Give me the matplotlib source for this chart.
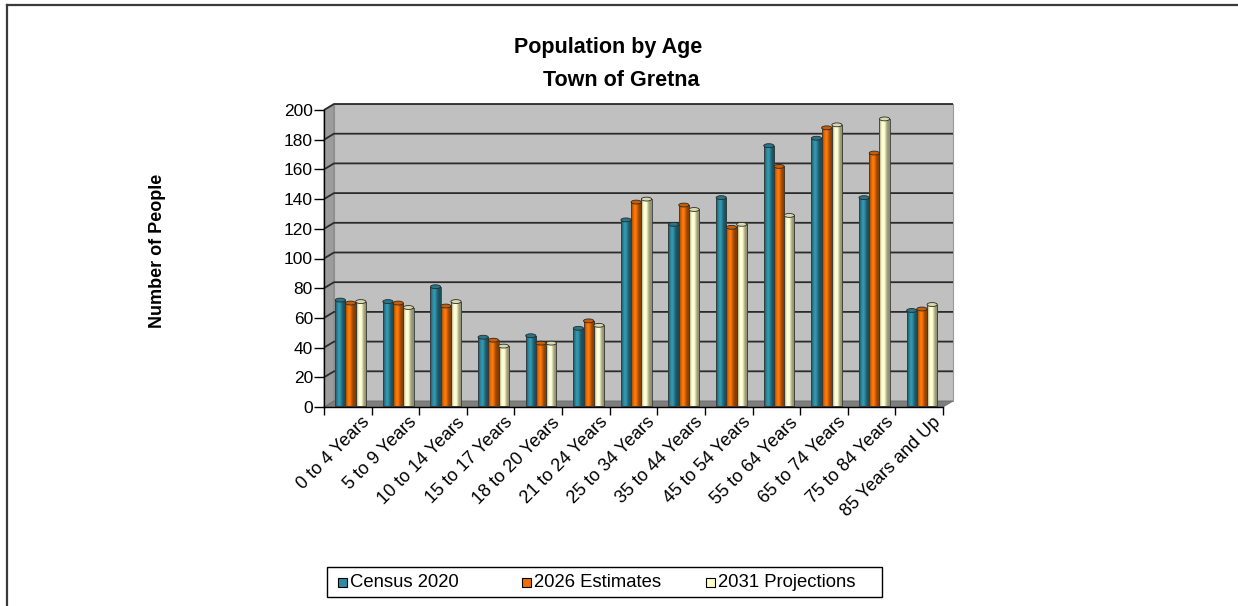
import numpy as np
import matplotlib
matplotlib.use("Agg")
import matplotlib.pyplot as plt
from matplotlib.patches import Polygon, Ellipse, Rectangle
from matplotlib.colors import to_rgb
from matplotlib.lines import Line2D
from matplotlib.transforms import offset_copy

plt.rcParams['font.family'] = ['Liberation Sans', 'DejaVu Sans']

categories = ["0 to 4 Years", "5 to 9 Years", "10 to 14 Years", "15 to 17 Years",
              "18 to 20 Years", "21 to 24 Years", "25 to 34 Years", "35 to 44 Years",
              "45 to 54 Years", "55 to 64 Years", "65 to 74 Years", "75 to 84 Years",
              "85 Years and Up"]
census_2020 = [71, 70, 80, 46, 47, 52, 125, 122, 140, 175, 180, 140, 64]
estimates_2026 = [69, 69, 67, 44, 42, 57, 137, 135, 120, 161, 187, 170, 65]
projections_2031 = [70, 66, 70, 40, 42, 54, 139, 132, 122, 128, 189, 193, 68]
series_names = ["Census 2020", "2026 Estimates", "2031 Projections"]
series_values = [census_2020, estimates_2026, projections_2031]
series_colors = ["#2E8BA1", "#EE6F06", "#FFFFCC"]
y_ticks = list(range(0, 201, 20))

W, H = 1238, 606
fig = plt.figure(figsize=(W / 100, H / 100), dpi=100)

# outer chart frame (top and left edges)
fig.add_artist(Line2D([7 / W, 7 / W], [0, 1 - 5 / H], transform=fig.transFigure,
                      color="#3a3a3a", lw=1.6))
fig.add_artist(Line2D([7 / W, 1], [1 - 5 / H, 1 - 5 / H], transform=fig.transFigure,
                      color="#3a3a3a", lw=1.6))

# front plane of the 3-D box
x0p, x1p, yb, yt = 324, 943, 407, 110
ax = fig.add_axes([x0p / W, 1 - yb / H, (x1p - x0p) / W, (yb - yt) / H])
n = len(categories)
ax.set_xlim(0, n)
ax.set_ylim(0, 200)
ax.patch.set_visible(False)
for s in ["top", "right", "bottom"]:
    ax.spines[s].set_visible(False)
ax.spines["left"].set_color("black")
ax.spines["left"].set_linewidth(1.0)

# depth of the box in data units
dx = 10 / (x1p - x0p) * n
dy = 6 / (yb - yt) * 200

# walls and floor
ax.add_patch(Polygon([(dx, dy), (n + dx, dy), (n + dx, 200 + dy), (dx, 200 + dy)],
                     closed=True, facecolor="#C0C0C0", edgecolor="#9a9a9a", lw=0.8,
                     clip_on=False, zorder=0))
ax.add_patch(Polygon([(0, 0), (dx, dy), (dx, 200 + dy), (0, 200)], closed=True,
                     facecolor="#9C9C9C", edgecolor="#808080", lw=0.6,
                     clip_on=False, zorder=0.5))
ax.add_patch(Polygon([(0, 0), (n, 0), (n + dx, dy), (dx, dy)], closed=True,
                     facecolor="#7E7E7E", edgecolor="#6a6a6a", lw=0.6,
                     clip_on=False, zorder=0.5))
for v in y_ticks[1:]:
    ax.plot([0, dx, n + dx], [v, v + dy, v + dy], color="#2b2b2b", lw=1.3,
            solid_capstyle="butt", clip_on=False, zorder=1)
ax.plot([0, n], [0, 0], color="black", lw=1.0, clip_on=False, zorder=6)


def shade(base):
    r, g, b = to_rgb(base)
    t = np.linspace(0, 1, 40)
    # cylinder lighting: dark rims, highlight left of centre
    k = 0.55 + 0.55 * np.exp(-((t - 0.38) / 0.28) ** 2)
    k = np.clip(k, 0, 1.12)
    rgb = np.stack([np.clip(r * k, 0, 1), np.clip(g * k, 0, 1), np.clip(b * k, 0, 1)], -1)
    return rgb[None, :, :]


bw = 0.215
start = 0.235
lift = 1.0
idx = np.arange(n)
for k, (vals, col) in enumerate(zip(series_values, series_colors)):
    xs = idx + start + k * bw + bw / 2
    bars = ax.bar(xs, vals, width=bw, bottom=lift, facecolor="none",
                  edgecolor="#3a3a3a", lw=0.6, clip_on=False, zorder=4)
    img = shade(col)
    for rect in bars:
        bx, by = rect.get_x(), rect.get_y()
        bwid, bh = rect.get_width(), rect.get_height()
        ax.imshow(img, extent=(bx, bx + bwid, by, by + bh), aspect="auto",
                  interpolation="bilinear", zorder=3, clip_on=False)
        r, g, b = to_rgb(col)
        top = (r * 0.85, g * 0.85, b * 0.85)
        ax.add_patch(Ellipse((bx + bwid / 2, by + bh), bwid, 2.6, facecolor=top,
                             edgecolor="#2a2a2a", lw=0.6, clip_on=False, zorder=5))
ax.set_xlim(0, n)
ax.set_ylim(0, 200)

# axes ticks
ax.set_yticks(y_ticks)
ax.tick_params(axis="y", direction="out", length=7, width=1.0, labelsize=12.5, pad=1)
ax.set_xticks(np.arange(n + 1))
ax.set_xticklabels([])
ax.tick_params(axis="x", direction="out", length=6, width=1.0)
for i, c in enumerate(categories):
    tr = offset_copy(ax.transData, fig=fig, x=19, y=-13, units="dots")
    ax.text(i + 0.5, 0, c, transform=tr, rotation=45, rotation_mode="anchor",
            ha="right", va="center", fontsize=13)

fig.text(608 / W, 1 - 48 / H, "Population by Age", ha="center", va="center",
         fontsize=15.5, fontweight="bold")
fig.text(621 / W, 1 - 80 / H, "Town of Gretna", ha="center", va="center",
         fontsize=15.5, fontweight="bold")
fig.text(157 / W, 1 - 251 / H, "Number of People", ha="center", va="center",
         rotation=90, fontsize=13, fontweight="bold")

# legend box with evenly spaced entries
lx0, lx1, ly0, ly1 = 327, 882, 567, 597
fig.add_artist(Rectangle((lx0 / W, 1 - ly1 / H), (lx1 - lx0) / W, (ly1 - ly0) / H,
                         transform=fig.transFigure, facecolor="white",
                         edgecolor="black", lw=1.0))
ly = (ly0 + ly1) / 2
for j, (name, col) in enumerate(zip(series_names, series_colors)):
    sx = 338 + j * 184
    fig.add_artist(Rectangle((sx / W, 1 - (ly + 4.5) / H), 9 / W, 9 / H,
                             transform=fig.transFigure, facecolor=col,
                             edgecolor="black", lw=0.8))
    fig.text((sx + 12) / W, 1 - (ly + 0.5) / H, name, ha="left", va="center",
             fontsize=13.3)

fig.savefig("out.png", dpi=100)
